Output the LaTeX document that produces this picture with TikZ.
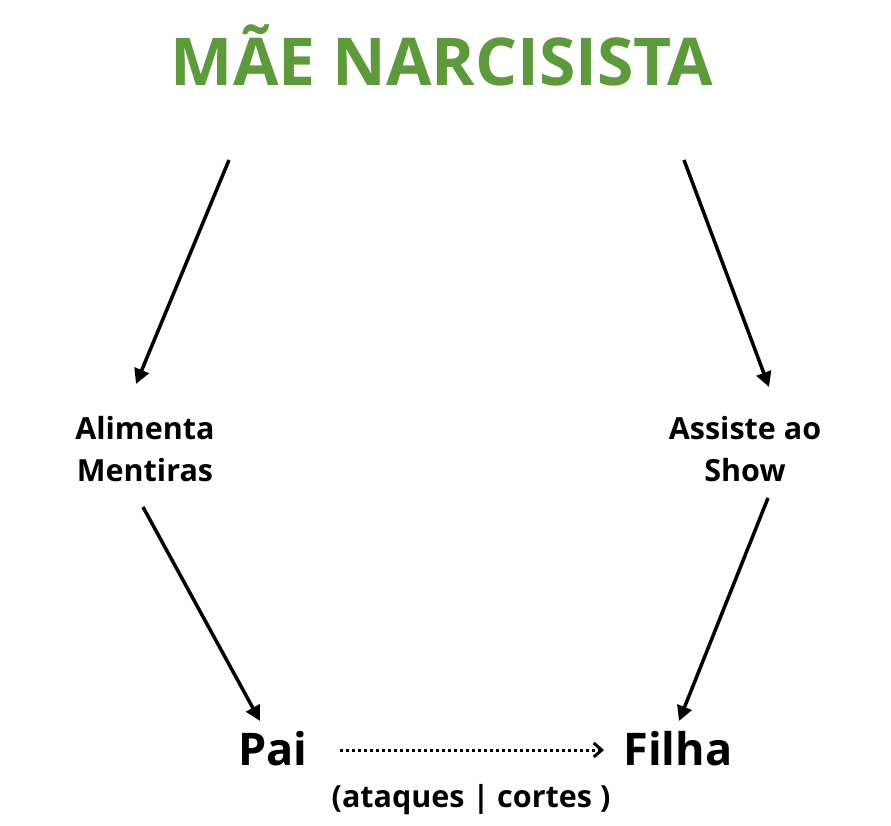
\documentclass[tikz,border=0pt]{standalone}
\usepackage{fontspec}
\setmainfont{Open Sans}
\usepackage{tikz}
\usetikzlibrary{positioning,arrows.meta,calc}
\definecolor{maegreen}{RGB}{93,155,58}

\begin{document}
\begin{tikzpicture}[x=1pt,y=-1pt,
  seta/.style={-{Triangle[length=15pt,width=15pt]},line width=3.5pt},
  rotulo/.style={anchor=base,align=center,font=\fontsize{30.5}{42}\selectfont\bfseries}]
\useasboundingbox (0,0) rectangle (891,825);

% Title
\node[anchor=base, text=maegreen, font=\fontsize{66}{70}\selectfont\bfseries] (mae) at (442,85) {MÃE NARCISISTA};

% Middle labels
\node[rotulo] (alimenta) at (145,481) {Alimenta\\Mentiras};
\node[rotulo] (assiste) at (745,481) {Assiste ao\\Show};

% Bottom nodes
\node[anchor=base, font=\fontsize{45}{50}\selectfont\bfseries] (pai) at (273,765) {Pai};
\node[anchor=base, font=\fontsize{45}{50}\selectfont\bfseries] (filha) at (678,765) {Filha};
\node[anchor=base, font=\fontsize{30.5}{34}\selectfont\bfseries] (ataques) at (471,807) {(ataques | cortes )};

% Arrow ends
\coordinate (a1) at (229,160); \coordinate (b1) at (136,384);
\coordinate (a2) at (684,160); \coordinate (b2) at (769,387);
\coordinate (a3) at (143,507); \coordinate (b3) at (260,721);
\coordinate (a4) at (768,498); \coordinate (b4) at (679,721);
\coordinate (a5) at (340,750); \coordinate (b5) at (604,750);

\draw[seta] (a1) -- (b1);
\draw[seta] (a2) -- (b2);
\draw[seta] (a3) -- (b3);
\draw[seta] (a4) -- (b4);

% Dotted arrow between Pai and Filha
\draw[line width=3pt, dash pattern=on 3pt off 3pt, -{Straight Barb[length=8pt,width=14pt,line width=3pt]}] (a5) -- (b5);
\end{tikzpicture}
\end{document}
